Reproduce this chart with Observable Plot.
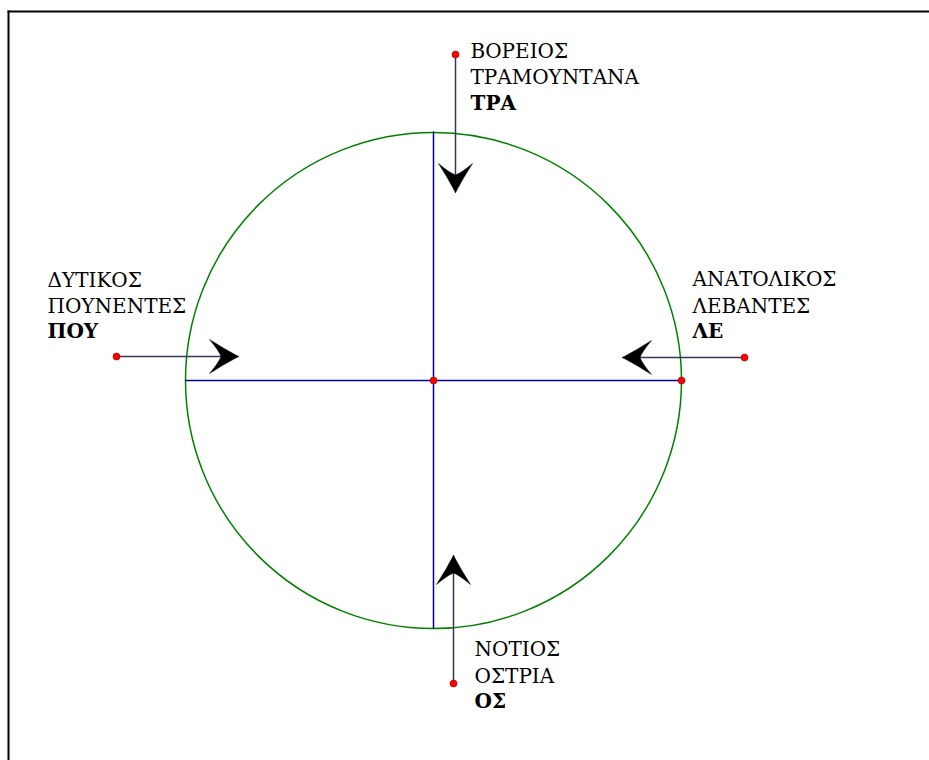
<!DOCTYPE html>
<html>
<head>
<meta charset="utf-8">
<script src="https://cdn.jsdelivr.net/npm/d3@7"></script>
<script src="https://cdn.jsdelivr.net/npm/@observablehq/plot@0.6"></script>
<style>
  html, body { margin: 0; padding: 0; background: #fff; overflow: hidden; }
  #chart svg { display: block; }
</style>
</head>
<body>
<div id="chart"></div>
<script>
// Diagram coordinates: origin at the circle's centre, y pointing up.
const circleRadius = 248;
const centre = [{x: 0, y: 0}];
const markedPoints = [{x: 0, y: 0}, {x: 248, y: 0}];
const crossLines = [
  {x1: -248, y1: 0, x2: 248, y2: 0},
  {x1: 0, y1: 249, x2: 0, y2: -248}
];
// Page frame: only its top and left edges fall inside the picture
const frameEdges = [
  {x1: -426, y1: 369, x2: 520, y2: 369},
  {x1: -425, y1: 370, x2: -425, y2: -400}
];

// Winds
const winds = ["N", "W", "E", "S"];
const windStartX = [22, -317, 311, 20];
const windStartY = [326, 24, 23, -303];
const windTipX = [22, -195, 189, 20];
const windTipY = [188, 24, 23, -175];
const windRotate = [180, 90, -90, 0];
const nameLine1 = ["ΒΟΡΕΙΟΣ", "ΔΥΤΙΚΟΣ", "ΑΝΑΤΟΛΙΚΟΣ", "ΝΟΤΙΟΣ"];
const nameLine2 = ["ΤΡΑΜΟΥΝΤΑΝΑ", "ΠΟΥΝΕΝΤΕΣ", "ΛΕΒΑΝΤΕΣ", "ΟΣΤΡΙΑ"];
const nameAbbrev = ["ΤΡΑ", "ΠΟΥ", "ΛΕ", "ΟΣ"];
const labelX = [37, -386, 259, 41];
const labelY1 = [323, 94, 95, -275];
const labelY2 = [297, 68, 68, -302];
const labelY3 = [271, 43, 43, -327];

const windTable = winds.map((w, i) => ({
  wind: w,
  sx: windStartX[i], sy: windStartY[i],
  tx: windTipX[i], ty: windTipY[i],
  rot: windRotate[i]
}));
const labels = winds.flatMap((w, i) => [
  {x: labelX[i], y: labelY1[i], text: nameLine1[i], bold: false},
  {x: labelX[i], y: labelY2[i], text: nameLine2[i], bold: false},
  {x: labelX[i], y: labelY3[i], text: nameAbbrev[i], bold: true}
]);

// Stealth-like arrowhead, tip at (0,-l)
const stealth = {
  draw(ctx, l, r) {
    const w = 17;
    ctx.moveTo(0, -l);
    ctx.quadraticCurveTo(-w * 0.45, -l * 0.5, -w, 0);
    ctx.quadraticCurveTo(-w * 0.4, -l * 0.3, 0, -l * 0.4);
    ctx.quadraticCurveTo(w * 0.4, -l * 0.3, w, 0);
    ctx.quadraticCurveTo(w * 0.45, -l * 0.5, 0, -l);
    ctx.closePath();
  }
};

const font = "'DejaVu Serif', 'Liberation Serif', serif";

const chart = Plot.plot({
  width: 929,
  height: 760,
  margin: 0,
  x: {domain: [-433, 496], range: [0, 929], axis: null},
  y: {domain: [-380, 380], range: [760, 0], axis: null},
  style: {background: "#fff", overflow: "hidden"},
  marks: [
    Plot.link(frameEdges, {x1: "x1", y1: "y1", x2: "x2", y2: "y2", stroke: "#000", strokeWidth: 2}),
    Plot.dot(centre, {x: "x", y: "y", r: circleRadius, fill: "none", stroke: "#008000", strokeWidth: 1.5}),
    Plot.link(crossLines, {x1: "x1", y1: "y1", x2: "x2", y2: "y2", stroke: "#0000a0", strokeWidth: 1.5}),
    Plot.link(windTable, {x1: "sx", y1: "sy", x2: "tx", y2: "ty", stroke: "#35355a", strokeWidth: 1.5}),
    Plot.vector(windTable, {x: "tx", y: "ty", rotate: "rot", length: 29, anchor: "end", shape: stealth, fill: "#000", stroke: "#000", strokeWidth: 0.5}),
    Plot.dot(windTable, {x: "sx", y: "sy", r: 3.5, fill: "#ff0000", stroke: "#900000", strokeWidth: 0.6}),
    Plot.dot(markedPoints, {x: "x", y: "y", r: 3.5, fill: "#ff0000", stroke: "#900000", strokeWidth: 0.6}),
    Plot.text(labels.filter(d => !d.bold), {x: "x", y: "y", text: "text", textAnchor: "start", lineAnchor: "bottom", fontFamily: font, fontSize: 20, fill: "#000"}),
    Plot.text(labels.filter(d => d.bold), {x: "x", y: "y", text: "text", textAnchor: "start", lineAnchor: "bottom", fontFamily: font, fontSize: 20, fontWeight: "bold", fill: "#000"})
  ]
});
document.getElementById("chart").appendChild(chart);
</script>
</body>
</html>
